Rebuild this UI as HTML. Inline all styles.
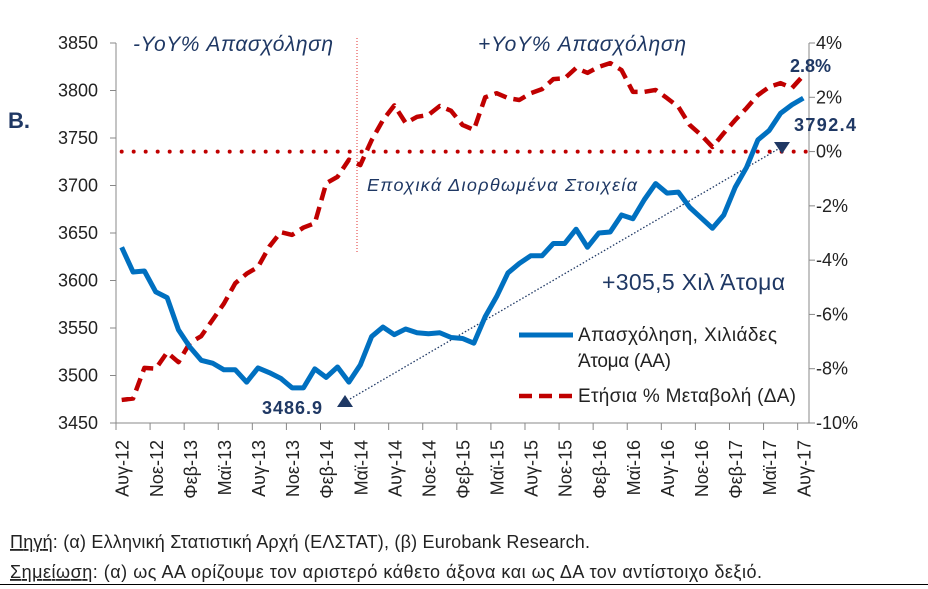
<!DOCTYPE html>
<html><head><meta charset="utf-8"><style>
body{margin:0;background:#fff;}
svg{display:block;font-family:"Liberation Sans","DejaVu Sans",sans-serif;}
</style></head><body>
<svg id="c" width="928" height="589" viewBox="0 0 928 589"></svg>
<script>
const categories=[];
const months=["Ιαν","Φεβ","Μαρ","Απρ","Μαϊ","Ιουν","Ιουλ","Αυγ","Σεπ","Οκτ","Νοε","Δεκ"];
for(let i=0;i<61;i++){const m=(7+i)%12,y=12+Math.floor((7+i)/12);categories.push(months[m]+"-"+y);}
const employment=[3635,3609,3610,3588,3582,3548,3530,3516,3513,3506,3506,3493,3508,3503,3497,3487,3487,3507,3498,3509,3493,3511,3541,3551,3543,3549,3545,3544,3545,3540,3539,3534,3562,3583,3608,3618,3626,3626,3639,3639,3654,3635,3650,3651,3669,3665,3685,3702,3692,3693,3677,3666,3655,3669,3698,3719,3748,3758,3776,3785,3792];
const yoy=[-9.15,-9.1,-7.97,-8.0,-7.4,-7.76,-7.05,-6.8,-6.2,-5.6,-4.85,-4.5,-4.25,-3.5,-2.97,-3.07,-2.8,-2.64,-1.17,-0.93,-0.3,-0.5,0.42,1.16,1.7,1.05,1.28,1.35,1.68,1.5,0.98,0.8,2.0,2.15,1.97,1.9,2.15,2.3,2.67,2.7,3.08,2.9,3.12,3.26,3.0,2.2,2.2,2.27,1.97,1.65,0.98,0.61,0.17,0.68,1.16,1.6,2.08,2.38,2.52,2.34,2.8];
const leftTicks=[3450,3500,3550,3600,3650,3700,3750,3800,3850];
const rightTicks=[-10,-8,-6,-4,-2,0,2,4];

const svg=document.getElementById('c');const NS="http://www.w3.org/2000/svg";
const X0=116,X1=809,Y0=423,Y1=43;
const bw=(X1-X0)/categories.length;
const xs=i=>X0+bw*(i+0.5);
const yl=v=>Y0-(v-3450)/400*(Y0-Y1);
const yr=v=>Y0-(v+10)/14*(Y0-Y1);
function el(t,a,txt){const e=document.createElementNS(NS,t);for(const k in a)e.setAttribute(k,a[k]);if(txt!==undefined)e.textContent=txt;svg.appendChild(e);return e;}

let e=el('line',{x1:X0,y1:Y1,x2:X0,y2:Y0,stroke:'#888','stroke-width':1});


e=el('line',{x1:X1,y1:Y1,x2:X1,y2:Y0,stroke:'#888','stroke-width':1});


e=el('line',{x1:X0,y1:Y0,x2:X1,y2:Y0,stroke:'#888','stroke-width':1});


leftTicks.forEach(v=>{
 el('line',{x1:X0-6,y1:yl(v),x2:X0,y2:yl(v),stroke:'#888'});
 e=el('text',{x:98,y:yl(v)+6,'text-anchor':'end','font-size':18,fill:'#222'},String(v));
 
 
});
rightTicks.forEach(v=>{
 el('line',{x1:X1,y1:yr(v),x2:X1+6,y2:yr(v),stroke:'#888'});
 e=el('text',{x:X1+7,y:yr(v)+6,'font-size':18,fill:'#222'},v+'%');
 
 
});
for(let i=0;i<=categories.length;i+=3){const x=X0+bw*i;el('line',{x1:x,y1:Y0,x2:x,y2:Y0+7,stroke:'#888'});}
categories.forEach((c,i)=>{if(i%3)return;const x=xs(i)+7;
 e=el('text',{x:x,y:440,'text-anchor':'end','font-size':18,fill:'#222',transform:`rotate(-90 ${x} 440)`},c);
 
 
});
e=el('line',{x1:xs(0),y1:yr(0),x2:X1-2,y2:yr(0),stroke:'#c00000','stroke-width':4,'stroke-dasharray':'0 12','stroke-linecap':'round'});


e=el('line',{x1:357,y1:38,x2:357,y2:252,stroke:'#e03030','stroke-width':1,'stroke-dasharray':'1 2'});


e=el('line',{x1:350,y1:399,x2:780,y2:148,stroke:'#1f3864','stroke-width':1.3,'stroke-dasharray':'1.5 2'});


e=el('polygon',{points:'337,407 353,407 345,395',fill:'#1f3864'});


e=el('polygon',{points:'774,142 790,142 782,154',fill:'#1f3864'});


e=el('polyline',{points:yoy.map((v,i)=>xs(i)+','+yr(v)).join(' '),fill:'none',stroke:'#c00000','stroke-width':4.5,'stroke-dasharray':'13 7','stroke-linejoin':'round'});


e=el('polyline',{points:employment.map((v,i)=>xs(i)+','+yl(v)).join(' '),fill:'none',stroke:'#0070c0','stroke-width':5,'stroke-linejoin':'round'});


const N='#1f3864';
function T(x,y,s,txt,name,extra){const a=Object.assign({x:x,y:y,'font-size':s,fill:N},extra||{});const t=el('text',a,txt);return t;}
T(8,128,22,'B.','panel-label',{'font-weight':'bold'});
T(133,51,21,'-YoY% Απασχόληση','negative-yoy-title',{'font-style':'italic',textLength:200});
T(478,51,21,'+YoY% Απασχόληση','positive-yoy-title',{'font-style':'italic',textLength:208});
T(367,191,18,'Εποχικά Διορθωμένα Στοιχεία','seasonally-adjusted-note',{'font-style':'italic',textLength:270});
T(602,290,23,'+305,5 Χιλ Άτομα','change-annotation',{textLength:183});
T(262,414,18,'3486.9','start-value-label',{'font-weight':'bold',textLength:60});
T(794,131,18,'3792.4','end-value-label',{'font-weight':'bold',textLength:62});
T(790,72,18,'2.8%','end-yoy-label',{'font-weight':'bold'});
e=el('line',{x1:519,y1:335,x2:573,y2:335,stroke:'#0070c0','stroke-width':5});


T(578,341,19,'Απασχόληση, Χιλιάδες','legend-employment-label',{fill:'#222',textLength:199});
T(578,367,19,'Άτομα (ΑΑ)','legend-employment-label-2',{fill:'#222',textLength:93});
e=el('line',{x1:519,y1:396,x2:573,y2:396,stroke:'#c00000','stroke-width':4.5,'stroke-dasharray':'13 7'});


T(578,402,19,'Ετήσια % Μεταβολή (ΔΑ)','legend-yoy-label',{fill:'#222',textLength:218});
const f1=el('text',{x:10,y:548,'font-size':18,fill:'#222',textLength:580});


f1.innerHTML='<tspan text-decoration="underline">Πηγή</tspan>: (α) Ελληνική Στατιστική Αρχή (ΕΛΣΤΑΤ), (β) Eurobank Research.';
const f2=el('text',{x:10,y:578,'font-size':18,fill:'#222',textLength:752});


f2.innerHTML='<tspan text-decoration="underline">Σημείωση</tspan>: (α) ως ΑΑ ορίζουμε τον αριστερό κάθετο άξονα και ως ΔΑ τον αντίστοιχο δεξιό.';
e=el('line',{x1:0,y1:584.5,x2:928,y2:584.5,stroke:'#000','stroke-width':1});


</script>
</body></html>
